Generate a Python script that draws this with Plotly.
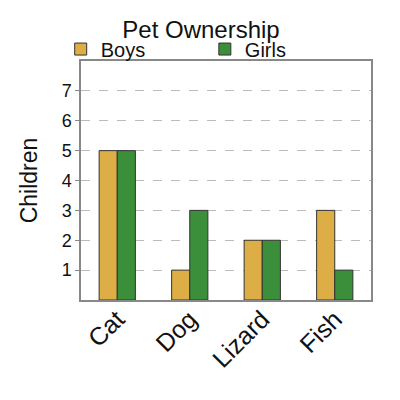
import plotly.graph_objects as go

# data
pets = ['Cat', 'Dog', 'Lizard', 'Fish']
boys = [5, 1, 2, 3]
girls = [5, 3, 2, 1]
y_ticks = [1, 2, 3, 4, 5, 6, 7]

FONT = 'Liberation Sans, Arial, sans-serif'
C_BOYS = '#DCAE45'
C_GIRLS = '#3B8F3B'

fig = go.Figure()
fig.add_trace(go.Bar(
    name='Boys', x=pets, y=boys, legend='legend',
    marker=dict(color=C_BOYS, line=dict(color='#333333', width=1)),
))
fig.add_trace(go.Bar(
    name='Girls', x=pets, y=girls, legend='legend2',
    marker=dict(color=C_GIRLS, line=dict(color='#333333', width=1)),
))

leg_common = dict(orientation='h', y=1.05, yanchor='middle', xanchor='left',
                  font=dict(size=20), bgcolor='rgba(0,0,0,0)', itemwidth=30)

fig.update_layout(
    width=400, height=400,
    paper_bgcolor='white', plot_bgcolor='white',
    font=dict(family=FONT, color='#111111'),
    title=dict(text='Pet Ownership', x=0.4825, xanchor='center',
               y=0.947, yanchor='middle', font=dict(size=24)),
    barmode='group', bargap=0.5, bargroupgap=0,
    margin=dict(l=73, r=37, t=53, b=108, autoexpand=False),
    showlegend=True,
    legend=dict(x=-0.07, **leg_common),
    legend2=dict(x=0.427, **leg_common),
)

fig.update_xaxes(
    range=[-0.5, 3.5], tickangle=-45, tickfont=dict(size=25),
    ticklabelstandoff=-7,
    showline=True, linecolor='#888888', linewidth=1.5, mirror=True,
    showgrid=False, ticks='',
)
fig.update_yaxes(
    range=[0, 8], tickvals=y_ticks, tickfont=dict(size=18),
    title=dict(text='Children', font=dict(size=23), standoff=18),
    showline=True, linecolor='#888888', linewidth=1.5, mirror=True,
    showgrid=True, gridcolor='#BBBBBB', griddash='dash', gridwidth=1.2,
    ticks='outside', ticklen=4, tickcolor='#888888', zeroline=False,
)

fig.write_html('out.html')
